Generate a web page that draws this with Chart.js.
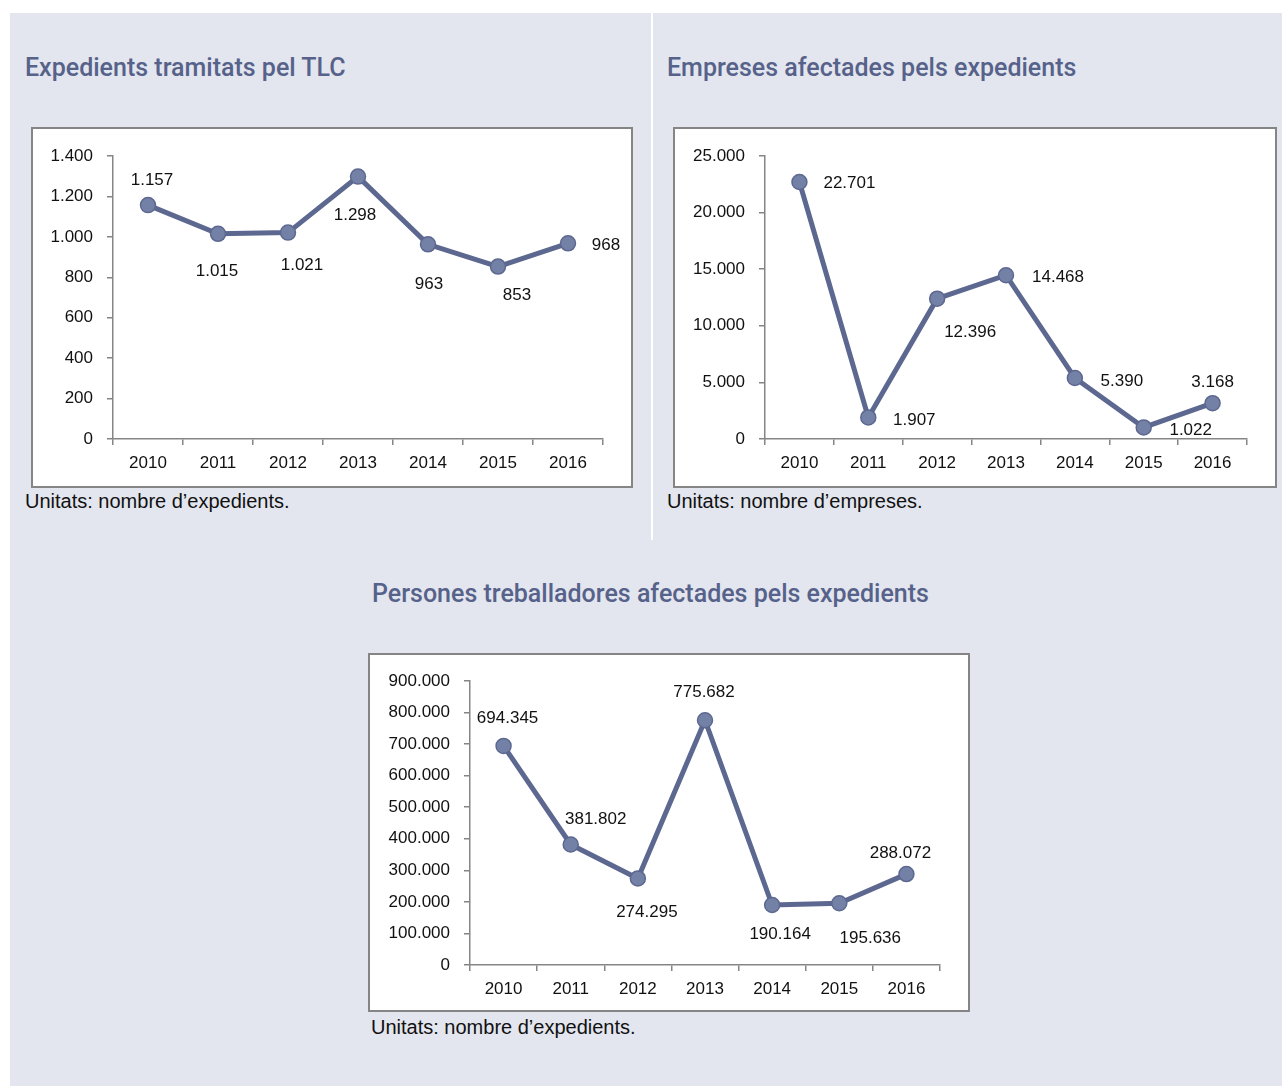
<!DOCTYPE html>
<html>
<head>
<meta charset="utf-8">
<script src="https://cdn.jsdelivr.net/npm/chart.js@4.4.1/dist/chart.umd.min.js"></script>
<style>
  body { margin: 0; background: #fff; width: 1282px; height: 1086px; position: relative; overflow: hidden; font-family: "Liberation Sans", Arial, sans-serif; }
  .panel { position: absolute; left: 10px; top: 13px; width: 1272px; height: 1073px; background: #e3e6ee; }
  .divider { position: absolute; left: 651px; top: 13px; width: 2px; height: 527px; background: #fff; }
  .title { position: absolute; color: #56628a; font-family: Roboto, sans-serif; font-weight: 500; font-size: 25px; white-space: nowrap; line-height: 1; }
  .note { position: absolute; color: #111; font-size: 20px; white-space: nowrap; line-height: 1; }
  .box { position: absolute; background: #fff; box-shadow: inset 0 0 0 2px #858585; }
  .box canvas { position: absolute; left: 0; top: 0; }
</style>
</head>
<body>
<div class="panel"></div>
<div class="divider"></div>

<div class="title" style="left:25px; top:55px;">Expedients tramitats pel TLC</div>
<div class="title" style="left:667px; top:55px;">Empreses afectades pels expedients</div>
<div class="title" style="left:372px; top:581px;">Persones treballadores afectades pels expedients</div>

<div class="box" style="left:31px; top:127px; width:602px; height:361px;"><canvas id="c1" width="602" height="361"></canvas></div>
<div class="box" style="left:673px; top:127px; width:604px; height:361px;"><canvas id="c2" width="604" height="361"></canvas></div>
<div class="box" style="left:368px; top:653px; width:602px; height:359px;"><canvas id="c3" width="602" height="359"></canvas></div>

<div class="note" style="left:25px; top:491px;">Unitats: nombre d’expedients.</div>
<div class="note" style="left:667px; top:491px;">Unitats: nombre d’empreses.</div>
<div class="note" style="left:371px; top:1017px;">Unitats: nombre d’expedients.</div>

<script>
const years = ['2010', '2011', '2012', '2013', '2014', '2015', '2016'];
const expedients = [1157, 1015, 1021, 1298, 963, 853, 968];
const empreses = [22701, 1907, 12396, 14468, 5390, 1022, 3168];
const treballadors = [694345, 381802, 274295, 775682, 190164, 195636, 288072];

const expedientsAxis = { max: 1400, step: 200 };
const empresesAxis = { max: 25000, step: 5000 };
const treballadorsAxis = { max: 900000, step: 100000 };

// label offsets (px) from each point
const offs1 = [[4, -25], [-1, 37], [14, 33], [-3, 39], [1, 40], [19, 29], [38, 2]];
const offs2 = [[50, 1], [46, 3], [33, 34], [52, 2], [47, 3], [47, 3], [0, -21]];
const offs3 = [[4, -28], [25, -25], [9, 34], [-1, -28], [8, 29], [31, 35], [-6, -21]];

const LINE = '#5d6890';
const FONT = { family: '"Liberation Sans", Arial, sans-serif', size: 17 };

function fmt(v) {
  return String(v).replace(/\B(?=(\d{3})+(?!\d))/g, '.');
}

const labelPlugin = {
  id: 'pointLabels',
  afterDatasetsDraw(chart) {
    const ctx = chart.ctx;
    const meta = chart.getDatasetMeta(0);
    const offs = chart.options.plugins.pointLabels.offsets;
    ctx.save();
    ctx.font = FONT.size + 'px ' + FONT.family;
    ctx.fillStyle = '#111';
    ctx.textAlign = 'center';
    ctx.textBaseline = 'middle';
    meta.data.forEach((pt, i) => {
      const v = chart.data.datasets[0].data[i];
      ctx.fillText(fmt(v), pt.x + offs[i][0], pt.y + offs[i][1]);
    });
    ctx.restore();
  }
};

function makeChart(id, values, axis, offs, pad) {
  new Chart(document.getElementById(id), {
    type: 'line',
    data: {
      labels: years,
      datasets: [{
        data: values,
        borderColor: LINE,
        borderWidth: 5,
        pointRadius: 7.5,
        pointHoverRadius: 7.5,
        pointBackgroundColor: '#7481a6',
        pointBorderColor: LINE,
        pointBorderWidth: 1.5,
        tension: 0
      }]
    },
    plugins: [labelPlugin],
    options: {
      responsive: false,
      animation: false,
      devicePixelRatio: 1,
      layout: { padding: { left: 0, right: pad.right, top: pad.top, bottom: 0 } },
      plugins: {
        legend: { display: false },
        tooltip: { enabled: false },
        pointLabels: { offsets: offs }
      },
      scales: {
        x: {
          offset: true,
          grid: { display: true, offset: true, drawOnChartArea: false, drawTicks: true, tickLength: 6, color: '#858585', lineWidth: 1.5 },
          border: { display: true, color: '#858585', width: 1.5 },
          ticks: { color: '#111', font: FONT, padding: 8, maxRotation: 0 },
          afterFit(s) { s.height = pad.bottom; }
        },
        y: {
          min: 0,
          max: axis.max,
          grid: { display: true, drawOnChartArea: false, drawTicks: true, tickLength: 6, color: '#858585', lineWidth: 1.5 },
          border: { display: true, color: '#858585', width: 1.5 },
          ticks: { stepSize: axis.step, color: '#111', font: FONT, padding: 14, callback: v => fmt(v) },
          afterFit(s) { s.width = pad.left; }
        }
      }
    }
  });
}

makeChart('c1', expedients, expedientsAxis, offs1, { left: 82, right: 30, top: 29, bottom: 49 });
makeChart('c2', empreses, empresesAxis, offs2, { left: 92, right: 30, top: 29, bottom: 49 });
makeChart('c3', treballadors, treballadorsAxis, offs3, { left: 102, right: 30, top: 28, bottom: 47 });
</script>
</body>
</html>
